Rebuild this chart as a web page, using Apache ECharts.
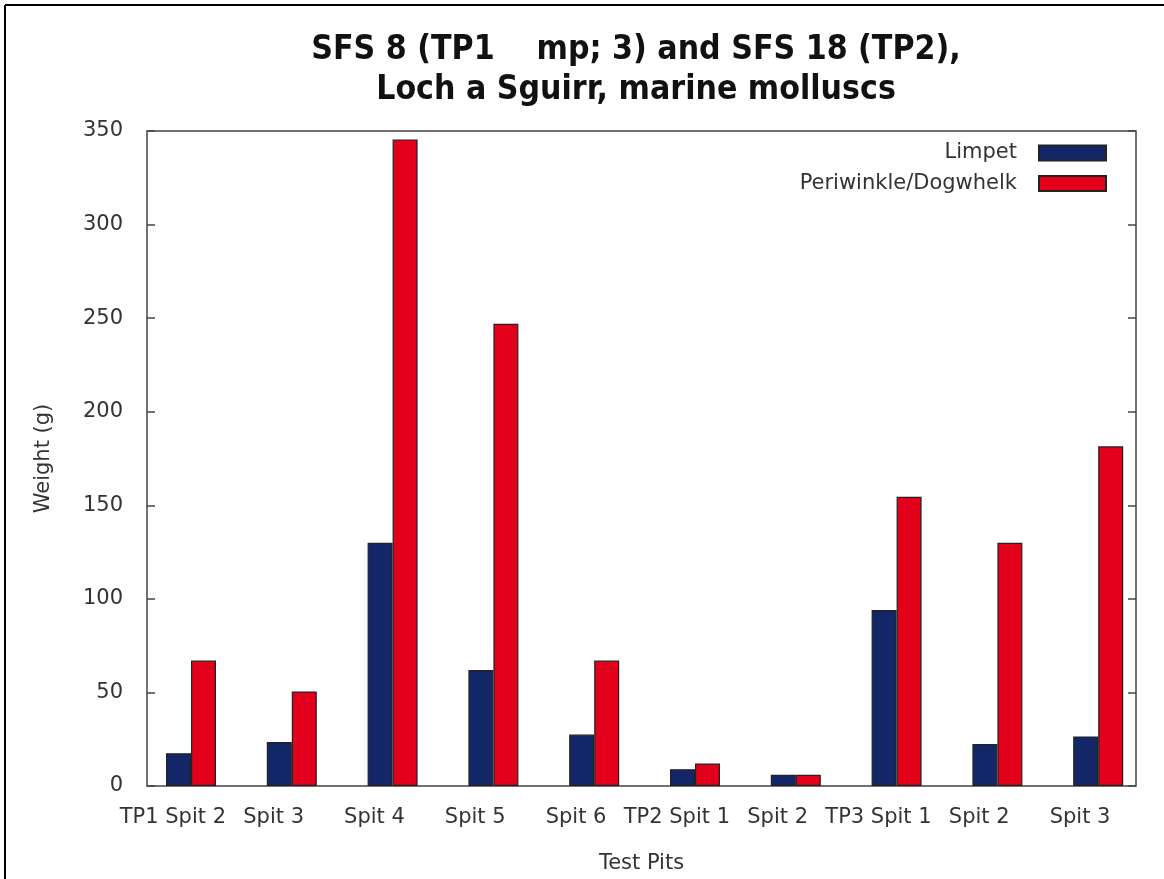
<!DOCTYPE html>
<html>
<head>
<meta charset="utf-8">
<script src="https://cdn.jsdelivr.net/npm/echarts@6/dist/echarts.min.js"></script>
<style>
  html, body { margin: 0; padding: 0; background: #fff; }
  #chart { width: 1164px; height: 879px; }
</style>
</head>
<body>
<div id="chart"></div>
<script>
// Test pit / spit labels along the x axis
const categories = ['TP1 Spit 2', 'Spit 3', 'Spit 4', 'Spit 5', 'Spit 6',
                    'TP2 Spit 1', 'Spit 2', 'TP3 Spit 1', 'Spit 2', 'Spit 3'];
// Shell weight (g) per spit
const limpet     = [17.5, 23.5, 130, 62, 27.5, 9, 6, 94, 22.5, 26.5];
const periwinkle = [67, 50.5, 345.5, 247, 67, 12, 6, 154.5, 130, 181.5];
const yTicks = [0, 50, 100, 150, 200, 250, 300, 350];

// Groups sit at integer x positions; labels are nudged slightly left of each group
const LABEL_SHIFT = -0.18;
const FONT = 'DejaVu Sans';
const FS = 21;

const chart = echarts.init(document.getElementById('chart'), null, { renderer: 'canvas' });

const toPairs = arr => arr.map((v, i) => [i, v]);

const tickStyle = { show: true, inside: true, length: 8, lineStyle: { color: '#444', width: 1.5 } };

const option = {
  backgroundColor: '#fff',
  animation: false,
  title: {
    text: 'SFS 8 (TP1    mp; 3) and SFS 18 (TP2),\nLoch a Sguirr, marine molluscs',
    left: 636,
    top: 30,
    textAlign: 'center',
    padding: 0,
    textStyle: {
      fontFamily: 'DejaVu Sans Condensed',
      fontWeight: 'bold',
      fontSize: 33.5,
      lineHeight: 40,
      color: '#111'
    }
  },
  legend: {
    orient: 'vertical',
    right: 57,
    top: 142.5,
    padding: 0,
    align: 'right',
    itemWidth: 67,
    itemHeight: 15,
    itemGap: 9.5,
    icon: 'rect',
    textStyle: { fontFamily: FONT, fontSize: FS, color: '#333', padding: [0, 17, 0, 0] },
    data: ['Limpet', 'Periwinkle/Dogwhelk']
  },
  grid: {
    left: 147, right: 28, top: 131, bottom: 90,
    show: true, borderColor: '#444', borderWidth: 1.5, backgroundColor: 'transparent'
  },
  xAxis: {
    type: 'value',
    min: -0.4365,
    max: 9.375,
    name: 'Test Pits',
    nameLocation: 'middle',
    nameGap: 67,
    nameTextStyle: { fontFamily: FONT, fontSize: FS, color: '#333' },
    axisLine: { show: false, onZero: false },
    axisTick: { show: false },
    splitLine: { show: false },
    axisLabel: {
      customValues: categories.map((c, i) => i + LABEL_SHIFT),
      formatter: v => categories[Math.round(v - LABEL_SHIFT)] || '',
      fontFamily: FONT, fontSize: FS, color: '#333', margin: 21
    }
  },
  yAxis: [{
    type: 'value',
    min: 0, max: 350, interval: 50,
    name: 'Weight (g)',
    nameLocation: 'middle',
    nameGap: 93,
    nameTextStyle: { fontFamily: FONT, fontSize: FS, color: '#333' },
    axisLine: { show: false, onZero: false },
    axisTick: tickStyle,
    splitLine: { show: false },
    axisLabel: {
      customValues: yTicks,
      fontFamily: FONT, fontSize: FS, color: '#333', margin: 24
    }
  }, {
    type: 'value',
    position: 'right',
    min: 0, max: 350, interval: 50,
    axisLine: { show: false, onZero: false },
    axisTick: tickStyle,
    splitLine: { show: false },
    axisLabel: { show: false }
  }],
  series: [{
    name: 'Limpet',
    type: 'bar',
    barWidth: 25,
    barGap: '0%',
    data: toPairs(limpet),
    itemStyle: { color: '#132668', borderColor: '#222', borderWidth: 1.2 }
  }, {
    name: 'Periwinkle/Dogwhelk',
    type: 'bar',
    barWidth: 25,
    barGap: '0%',
    data: toPairs(periwinkle),
    itemStyle: { color: '#e2001a', borderColor: '#222', borderWidth: 1.2 }
  }],
  graphic: [
    { type: 'line', shape: { x1: 5, y1: 5, x2: 1164, y2: 5 }, style: { stroke: '#000', lineWidth: 2 } },
    { type: 'line', shape: { x1: 5, y1: 5, x2: 5, y2: 879 }, style: { stroke: '#000', lineWidth: 2 } }
  ]
};

chart.setOption(option);
</script>
</body>
</html>
